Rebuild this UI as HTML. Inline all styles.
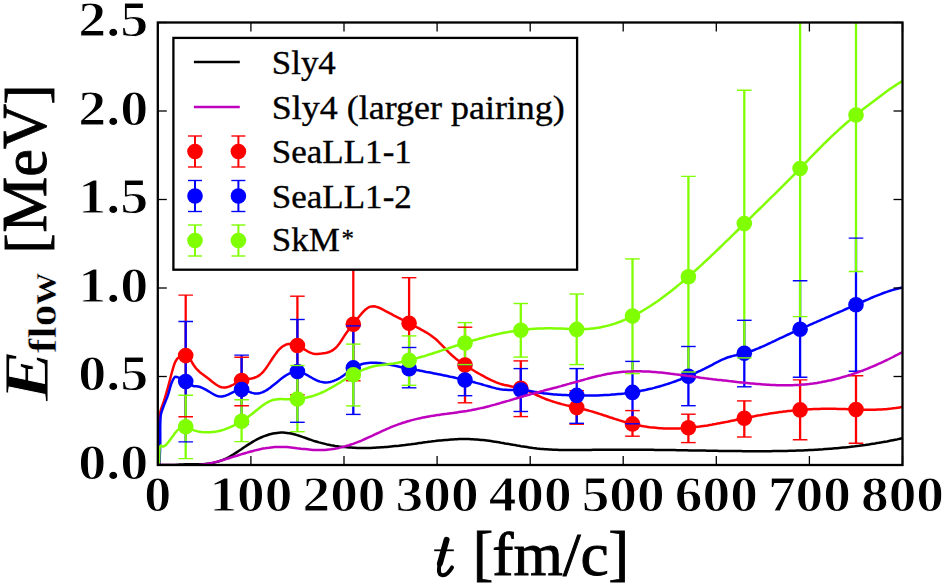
<!DOCTYPE html>
<html><head><meta charset="utf-8"><title>E_flow vs t</title>
<style>
html,body{margin:0;padding:0;background:#fff;width:945px;height:587px;overflow:hidden;}
svg{display:block;}
text{font-family:"Liberation Serif",serif;fill:#000;}
</style></head><body>
<svg width="945" height="587" viewBox="0 0 945 587">
<rect x="0" y="0" width="945" height="587" fill="#fff"/>
<defs><clipPath id="pc"><rect x="157.8" y="22.5" width="744.7" height="442.5"/></clipPath></defs>
<g clip-path="url(#pc)">
<line x1="185.7" y1="295.1" x2="185.7" y2="416.8" stroke="#ff0000" stroke-width="2.3"/>
<line x1="241.6" y1="357.3" x2="241.6" y2="405.8" stroke="#ff0000" stroke-width="2.3"/>
<line x1="297.4" y1="296.2" x2="297.4" y2="394.8" stroke="#ff0000" stroke-width="2.3"/>
<line x1="353.3" y1="250.0" x2="353.3" y2="380.7" stroke="#ff0000" stroke-width="2.3"/>
<line x1="409.1" y1="277.7" x2="409.1" y2="368.7" stroke="#ff0000" stroke-width="2.3"/>
<line x1="465.0" y1="327.2" x2="465.0" y2="402.8" stroke="#ff0000" stroke-width="2.3"/>
<line x1="520.8" y1="360.9" x2="520.8" y2="416.6" stroke="#ff0000" stroke-width="2.3"/>
<line x1="576.7" y1="390.7" x2="576.7" y2="424.2" stroke="#ff0000" stroke-width="2.3"/>
<line x1="632.5" y1="410.6" x2="632.5" y2="436.2" stroke="#ff0000" stroke-width="2.3"/>
<line x1="688.4" y1="414.2" x2="688.4" y2="442.6" stroke="#ff0000" stroke-width="2.3"/>
<line x1="744.3" y1="400.9" x2="744.3" y2="437.0" stroke="#ff0000" stroke-width="2.3"/>
<line x1="800.1" y1="379.9" x2="800.1" y2="439.8" stroke="#ff0000" stroke-width="2.3"/>
<line x1="856.0" y1="375.8" x2="856.0" y2="443.3" stroke="#ff0000" stroke-width="2.3"/>
<line x1="185.7" y1="321.5" x2="185.7" y2="441.9" stroke="#0000ff" stroke-width="2.3"/>
<line x1="241.6" y1="355.1" x2="241.6" y2="424.0" stroke="#0000ff" stroke-width="2.3"/>
<line x1="297.4" y1="319.5" x2="297.4" y2="422.3" stroke="#0000ff" stroke-width="2.3"/>
<line x1="353.3" y1="325.9" x2="353.3" y2="414.4" stroke="#0000ff" stroke-width="2.3"/>
<line x1="409.1" y1="347.5" x2="409.1" y2="387.8" stroke="#0000ff" stroke-width="2.3"/>
<line x1="465.0" y1="364.6" x2="465.0" y2="395.7" stroke="#0000ff" stroke-width="2.3"/>
<line x1="520.8" y1="368.6" x2="520.8" y2="411.5" stroke="#0000ff" stroke-width="2.3"/>
<line x1="576.7" y1="368.6" x2="576.7" y2="423.3" stroke="#0000ff" stroke-width="2.3"/>
<line x1="632.5" y1="361.4" x2="632.5" y2="423.8" stroke="#0000ff" stroke-width="2.3"/>
<line x1="688.4" y1="346.5" x2="688.4" y2="405.7" stroke="#0000ff" stroke-width="2.3"/>
<line x1="744.3" y1="320.3" x2="744.3" y2="386.8" stroke="#0000ff" stroke-width="2.3"/>
<line x1="800.1" y1="280.8" x2="800.1" y2="377.2" stroke="#0000ff" stroke-width="2.3"/>
<line x1="856.0" y1="238.1" x2="856.0" y2="371.3" stroke="#0000ff" stroke-width="2.3"/>
<line x1="185.7" y1="395.2" x2="185.7" y2="458.6" stroke="#7fff00" stroke-width="2.3"/>
<line x1="241.6" y1="399.8" x2="241.6" y2="441.6" stroke="#7fff00" stroke-width="2.3"/>
<line x1="297.4" y1="365.5" x2="297.4" y2="431.7" stroke="#7fff00" stroke-width="2.3"/>
<line x1="353.3" y1="344.1" x2="353.3" y2="405.9" stroke="#7fff00" stroke-width="2.3"/>
<line x1="409.1" y1="335.9" x2="409.1" y2="385.3" stroke="#7fff00" stroke-width="2.3"/>
<line x1="465.0" y1="322.6" x2="465.0" y2="364.6" stroke="#7fff00" stroke-width="2.3"/>
<line x1="520.8" y1="303.5" x2="520.8" y2="357.1" stroke="#7fff00" stroke-width="2.3"/>
<line x1="576.7" y1="294.0" x2="576.7" y2="364.6" stroke="#7fff00" stroke-width="2.3"/>
<line x1="632.5" y1="258.9" x2="632.5" y2="373.6" stroke="#7fff00" stroke-width="2.3"/>
<line x1="688.4" y1="176.4" x2="688.4" y2="372.0" stroke="#7fff00" stroke-width="2.3"/>
<line x1="744.3" y1="90.3" x2="744.3" y2="357.9" stroke="#7fff00" stroke-width="2.3"/>
<line x1="800.1" y1="0.0" x2="800.1" y2="316.6" stroke="#7fff00" stroke-width="2.3"/>
<line x1="856.0" y1="0.0" x2="856.0" y2="271.5" stroke="#7fff00" stroke-width="2.3"/>
<path d="M159.4,465.0 C159.7,447.5 158.4,423.2 160.2,412.6 C161.0,407.8 162.3,406.3 163.5,402.5 C165.1,397.5 167.1,390.4 168.6,385.0 C169.9,380.4 170.8,376.1 172.0,372.0 C173.1,368.3 174.0,364.2 175.4,361.6 C176.4,359.7 177.3,358.3 178.9,357.3 C180.7,356.2 183.7,355.0 185.7,355.6 C187.9,356.2 190.2,359.8 191.6,361.6 L193.6,365.0 L195.6,367.8 L197.6,370.0 L199.6,371.9 L201.6,373.5 L203.6,374.9 L205.6,376.4 L207.6,377.9 L209.6,379.5 L211.6,381.2 L213.6,382.8 L215.6,384.2 L217.6,385.5 L219.6,386.6 L221.6,387.3 L223.6,387.6 L225.6,387.5 L227.6,387.1 L229.6,386.4 L231.6,385.5 L233.6,384.5 L235.6,383.4 L237.6,382.3 L239.6,381.3 L241.6,380.5 L243.6,379.9 L245.6,379.5 L247.6,379.2 L249.6,378.8 L251.6,378.5 L253.6,378.0 L255.6,377.3 L257.6,376.4 L259.6,375.1 L261.6,373.4 L263.6,371.3 L265.6,368.8 L267.6,365.9 L269.6,362.9 L271.6,359.8 L273.6,356.8 L275.6,353.9 L277.6,351.2 L279.6,349.0 L281.6,347.2 L283.6,345.8 L285.6,344.8 L287.6,344.1 L289.6,343.9 L291.6,343.9 L293.6,344.2 L295.6,344.8 L297.6,345.6 L299.6,346.6 L301.6,347.7 L303.6,348.9 L305.6,350.1 L307.6,351.3 L309.6,352.3 L311.6,353.1 L313.6,353.7 L315.6,353.9 L317.6,354.0 L319.6,353.8 L321.6,353.6 L323.6,353.3 L325.6,353.0 L327.6,352.5 L329.6,351.8 L331.6,350.9 L333.6,349.6 L335.6,348.0 L337.6,345.8 L339.6,343.2 L341.6,340.2 L343.6,337.1 L345.6,334.0 L347.6,331.3 L349.6,328.8 L351.6,326.3 L353.6,323.8 L355.6,321.2 L357.6,318.6 L359.6,316.0 L361.6,313.6 L363.6,311.4 L365.6,309.5 L367.6,308.0 L369.6,306.9 L371.6,306.4 L373.6,306.3 L375.6,306.6 L377.6,307.2 L379.6,308.0 L381.6,308.9 L383.6,310.0 L385.6,311.1 L387.6,312.1 L389.6,313.2 L391.6,314.2 L393.6,315.3 L395.6,316.3 L397.6,317.3 L399.6,318.3 L401.6,319.4 L403.6,320.4 L405.6,321.4 L407.6,322.4 L409.6,323.4 L411.6,324.5 L413.6,325.5 L415.6,326.6 L417.6,327.6 L419.6,328.7 L421.6,329.8 L423.6,330.9 L425.6,332.1 L427.6,333.2 L429.6,334.5 L431.6,335.9 L433.6,337.4 L435.6,339.0 L437.6,340.8 L439.6,342.8 L441.6,344.8 L443.6,346.9 L445.6,349.1 L447.6,351.1 L449.6,353.1 L451.6,355.0 L453.6,356.7 L455.6,358.4 L457.6,360.0 L459.6,361.4 L461.6,362.9 L463.6,364.2 L465.6,365.6 L467.6,366.8 L469.6,368.1 L471.6,369.3 L473.6,370.5 L475.6,371.7 L477.6,372.9 L479.6,374.0 L481.6,375.1 L483.6,376.2 L485.6,377.3 L487.6,378.3 L489.6,379.3 L491.6,380.3 L493.6,381.2 L495.6,382.1 L497.6,382.9 L499.6,383.6 L501.6,384.2 L503.6,384.8 L505.6,385.2 L507.6,385.6 L509.6,386.0 L511.6,386.4 L513.6,386.7 L515.6,387.1 L517.6,387.5 L519.6,388.0 L521.6,388.6 L523.6,389.3 L525.6,390.0 L527.6,390.9 L529.6,391.7 L531.6,392.7 L533.6,393.6 L535.6,394.6 L537.6,395.5 L539.6,396.4 L541.6,397.3 L543.6,398.2 L545.6,399.0 L547.6,399.7 L549.6,400.4 L551.6,401.1 L553.6,401.8 L555.6,402.4 L557.6,403.0 L559.6,403.5 L561.6,404.1 L563.6,404.6 L565.6,405.1 L567.6,405.6 L569.6,406.0 L571.6,406.5 L573.6,406.9 L575.6,407.4 L577.6,407.9 L579.6,408.3 L581.6,408.8 L583.6,409.3 L585.6,409.8 L587.6,410.3 L589.6,410.9 L591.6,411.4 L593.6,412.0 L595.6,412.6 L597.6,413.3 L599.6,413.9 L601.6,414.5 L603.6,415.2 L605.6,415.8 L607.6,416.5 L609.6,417.2 L611.6,417.8 L613.6,418.5 L615.6,419.1 L617.6,419.7 L619.6,420.4 L621.6,421.0 L623.6,421.6 L625.6,422.2 L627.6,422.7 L629.6,423.2 L631.6,423.8 L633.6,424.2 L635.6,424.7 L637.6,425.1 L639.6,425.5 L641.6,425.9 L643.6,426.3 L645.6,426.6 L647.6,426.9 L649.6,427.2 L651.6,427.4 L653.6,427.6 L655.6,427.8 L657.6,428.0 L659.6,428.2 L661.6,428.3 L663.6,428.4 L665.6,428.5 L667.6,428.5 L669.6,428.6 L671.6,428.6 L673.6,428.6 L675.6,428.5 L677.6,428.5 L679.6,428.4 L681.6,428.3 L683.6,428.2 L685.6,428.0 L687.6,427.9 L689.6,427.7 L691.6,427.5 L693.6,427.3 L695.6,427.1 L697.6,426.8 L699.6,426.6 L701.6,426.3 L703.6,426.0 L705.6,425.7 L707.6,425.4 L709.6,425.0 L711.6,424.7 L713.6,424.3 L715.6,424.0 L717.6,423.6 L719.6,423.2 L721.6,422.8 L723.6,422.4 L725.6,422.1 L727.6,421.7 L729.6,421.2 L731.6,420.8 L733.6,420.4 L735.6,420.0 L737.6,419.6 L739.6,419.2 L741.6,418.8 L743.6,418.4 L745.6,418.0 L747.6,417.6 L749.6,417.2 L751.6,416.8 L753.6,416.4 L755.6,416.0 L757.6,415.6 L759.6,415.3 L761.6,414.9 L763.6,414.6 L765.6,414.2 L767.6,413.9 L769.6,413.6 L771.6,413.3 L773.6,413.0 L775.6,412.7 L777.6,412.4 L779.6,412.1 L781.6,411.9 L783.6,411.6 L785.6,411.4 L787.6,411.1 L789.6,410.9 L791.6,410.7 L793.6,410.5 L795.6,410.3 L797.6,410.1 L799.6,409.9 L801.6,409.8 L803.6,409.6 L805.6,409.5 L807.6,409.4 L809.6,409.3 L811.6,409.2 L813.6,409.1 L815.6,409.0 L817.6,408.9 L819.6,408.9 L821.6,408.8 L823.6,408.8 L825.6,408.7 L827.6,408.7 L829.6,408.7 L831.6,408.8 L833.6,408.8 L835.6,408.8 L837.6,408.9 L839.6,408.9 L841.6,409.0 L843.6,409.0 L845.6,409.1 L847.6,409.2 L849.6,409.3 L851.6,409.3 L853.6,409.4 L855.6,409.5 L857.6,409.6 L859.6,409.6 L861.6,409.7 L863.6,409.7 L865.6,409.7 L867.6,409.8 L869.6,409.8 L871.6,409.8 L873.6,409.7 L875.6,409.7 L877.6,409.6 L879.6,409.6 L881.6,409.5 L883.6,409.3 L885.6,409.2 L887.6,409.0 L889.6,408.8 L891.6,408.6 L893.6,408.3 L895.6,408.1 L897.6,407.7 L899.6,407.4 L901.6,407.0 L902.5,406.8" fill="none" stroke="#ff0000" stroke-width="2.5" stroke-linejoin="round" stroke-linecap="butt"/>
<circle cx="185.7" cy="355.6" r="7.8" fill="#ff0000"/>
<circle cx="241.6" cy="380.5" r="7.8" fill="#ff0000"/>
<circle cx="297.4" cy="345.5" r="7.8" fill="#ff0000"/>
<circle cx="353.3" cy="324.2" r="7.8" fill="#ff0000"/>
<circle cx="409.1" cy="323.2" r="7.8" fill="#ff0000"/>
<circle cx="465.0" cy="365.1" r="7.8" fill="#ff0000"/>
<circle cx="520.8" cy="388.3" r="7.8" fill="#ff0000"/>
<circle cx="576.7" cy="407.6" r="7.8" fill="#ff0000"/>
<circle cx="632.5" cy="423.9" r="7.8" fill="#ff0000"/>
<circle cx="688.4" cy="427.8" r="7.8" fill="#ff0000"/>
<circle cx="744.3" cy="418.3" r="7.8" fill="#ff0000"/>
<circle cx="800.1" cy="409.9" r="7.8" fill="#ff0000"/>
<circle cx="856.0" cy="409.6" r="7.8" fill="#ff0000"/>
<line x1="178.4" y1="295.1" x2="193.0" y2="295.1" stroke="#ff0000" stroke-width="1.4"/>
<line x1="178.4" y1="416.8" x2="193.0" y2="416.8" stroke="#ff0000" stroke-width="1.4"/>
<line x1="234.3" y1="357.3" x2="248.9" y2="357.3" stroke="#ff0000" stroke-width="1.4"/>
<line x1="234.3" y1="405.8" x2="248.9" y2="405.8" stroke="#ff0000" stroke-width="1.4"/>
<line x1="290.1" y1="296.2" x2="304.7" y2="296.2" stroke="#ff0000" stroke-width="1.4"/>
<line x1="290.1" y1="394.8" x2="304.7" y2="394.8" stroke="#ff0000" stroke-width="1.4"/>
<line x1="346.0" y1="250.0" x2="360.6" y2="250.0" stroke="#ff0000" stroke-width="1.4"/>
<line x1="346.0" y1="380.7" x2="360.6" y2="380.7" stroke="#ff0000" stroke-width="1.4"/>
<line x1="401.8" y1="277.7" x2="416.4" y2="277.7" stroke="#ff0000" stroke-width="1.4"/>
<line x1="401.8" y1="368.7" x2="416.4" y2="368.7" stroke="#ff0000" stroke-width="1.4"/>
<line x1="457.7" y1="327.2" x2="472.3" y2="327.2" stroke="#ff0000" stroke-width="1.4"/>
<line x1="457.7" y1="402.8" x2="472.3" y2="402.8" stroke="#ff0000" stroke-width="1.4"/>
<line x1="513.5" y1="360.9" x2="528.1" y2="360.9" stroke="#ff0000" stroke-width="1.4"/>
<line x1="513.5" y1="416.6" x2="528.1" y2="416.6" stroke="#ff0000" stroke-width="1.4"/>
<line x1="569.4" y1="390.7" x2="584.0" y2="390.7" stroke="#ff0000" stroke-width="1.4"/>
<line x1="569.4" y1="424.2" x2="584.0" y2="424.2" stroke="#ff0000" stroke-width="1.4"/>
<line x1="625.2" y1="410.6" x2="639.8" y2="410.6" stroke="#ff0000" stroke-width="1.4"/>
<line x1="625.2" y1="436.2" x2="639.8" y2="436.2" stroke="#ff0000" stroke-width="1.4"/>
<line x1="681.1" y1="414.2" x2="695.7" y2="414.2" stroke="#ff0000" stroke-width="1.4"/>
<line x1="681.1" y1="442.6" x2="695.7" y2="442.6" stroke="#ff0000" stroke-width="1.4"/>
<line x1="737.0" y1="400.9" x2="751.6" y2="400.9" stroke="#ff0000" stroke-width="1.4"/>
<line x1="737.0" y1="437.0" x2="751.6" y2="437.0" stroke="#ff0000" stroke-width="1.4"/>
<line x1="792.8" y1="379.9" x2="807.4" y2="379.9" stroke="#ff0000" stroke-width="1.4"/>
<line x1="792.8" y1="439.8" x2="807.4" y2="439.8" stroke="#ff0000" stroke-width="1.4"/>
<line x1="848.7" y1="375.8" x2="863.3" y2="375.8" stroke="#ff0000" stroke-width="1.4"/>
<line x1="848.7" y1="443.3" x2="863.3" y2="443.3" stroke="#ff0000" stroke-width="1.4"/>
<path d="M159.4,465.0 C159.7,458.3 160.0,452.4 160.2,445.0 C160.5,435.9 159.7,421.3 160.9,414.5 C161.5,410.9 162.5,409.4 163.5,406.5 C164.7,403.1 166.4,399.5 167.8,395.6 C169.3,391.3 170.4,385.3 172.0,381.9 C173.0,379.7 174.0,377.3 175.4,376.8 C176.4,376.4 177.6,377.2 178.9,377.7 C180.8,378.5 183.3,380.3 185.7,381.6 C188.4,383.1 192.3,385.8 194.2,386.3 L196.2,386.2 L198.2,386.5 L200.2,387.0 L202.2,387.8 L204.2,388.8 L206.2,389.9 L208.2,391.1 L210.2,392.3 L212.2,393.5 L214.2,394.6 L216.2,395.6 L218.2,396.3 L220.2,396.6 L222.2,396.5 L224.2,396.1 L226.2,395.4 L228.2,394.6 L230.2,393.6 L232.2,392.6 L234.2,391.6 L236.2,390.7 L238.2,390.0 L240.2,389.7 L242.2,389.6 L244.2,390.0 L246.2,390.7 L248.2,391.4 L250.2,392.2 L252.2,392.9 L254.2,393.4 L256.2,393.5 L258.2,393.4 L260.2,393.0 L262.2,392.4 L264.2,391.5 L266.2,390.4 L268.2,389.1 L270.2,387.7 L272.2,386.1 L274.2,384.5 L276.2,382.9 L278.2,381.3 L280.2,379.6 L282.2,378.1 L284.2,376.6 L286.2,375.3 L288.2,374.1 L290.2,373.1 L292.2,372.3 L294.2,371.8 L296.2,371.5 L298.2,371.6 L300.2,372.0 L302.2,372.7 L304.2,373.5 L306.2,374.6 L308.2,375.7 L310.2,376.9 L312.2,378.0 L314.2,379.2 L316.2,380.2 L318.2,381.0 L320.2,381.6 L322.2,382.1 L324.2,382.4 L326.2,382.4 L328.2,382.3 L330.2,382.0 L332.2,381.4 L334.2,380.7 L336.2,379.9 L338.2,378.9 L340.2,377.7 L342.2,376.4 L344.2,375.0 L346.2,373.4 L348.2,371.8 L350.2,370.2 L352.2,368.7 L354.2,367.4 L356.2,366.3 L358.2,365.4 L360.2,364.7 L362.2,364.0 L364.2,363.6 L366.2,363.2 L368.2,362.9 L370.2,362.8 L372.2,362.7 L374.2,362.7 L376.2,362.8 L378.2,362.9 L380.2,363.1 L382.2,363.4 L384.2,363.7 L386.2,364.1 L388.2,364.4 L390.2,364.8 L392.2,365.2 L394.2,365.6 L396.2,366.1 L398.2,366.5 L400.2,366.9 L402.2,367.3 L404.2,367.6 L406.2,368.0 L408.2,368.4 L410.2,368.8 L412.2,369.2 L414.2,369.6 L416.2,370.0 L418.2,370.3 L420.2,370.7 L422.2,371.1 L424.2,371.5 L426.2,371.9 L428.2,372.2 L430.2,372.6 L432.2,373.0 L434.2,373.4 L436.2,373.8 L438.2,374.2 L440.2,374.6 L442.2,375.0 L444.2,375.4 L446.2,375.8 L448.2,376.2 L450.2,376.7 L452.2,377.1 L454.2,377.5 L456.2,378.0 L458.2,378.4 L460.2,378.9 L462.2,379.4 L464.2,379.8 L466.2,380.3 L468.2,380.8 L470.2,381.3 L472.2,381.8 L474.2,382.3 L476.2,382.9 L478.2,383.4 L480.2,383.9 L482.2,384.5 L484.2,385.1 L486.2,385.6 L488.2,386.2 L490.2,386.8 L492.2,387.4 L494.2,387.9 L496.2,388.4 L498.2,388.8 L500.2,389.2 L502.2,389.5 L504.2,389.7 L506.2,389.8 L508.2,389.9 L510.2,389.9 L512.2,389.9 L514.2,389.9 L516.2,389.9 L518.2,389.9 L520.2,390.0 L522.2,390.1 L524.2,390.3 L526.2,390.5 L528.2,390.8 L530.2,391.1 L532.2,391.4 L534.2,391.8 L536.2,392.1 L538.2,392.5 L540.2,392.8 L542.2,393.1 L544.2,393.4 L546.2,393.6 L548.2,393.8 L550.2,394.0 L552.2,394.2 L554.2,394.4 L556.2,394.5 L558.2,394.7 L560.2,394.8 L562.2,394.9 L564.2,395.0 L566.2,395.1 L568.2,395.2 L570.2,395.3 L572.2,395.3 L574.2,395.4 L576.2,395.4 L578.2,395.5 L580.2,395.5 L582.2,395.5 L584.2,395.6 L586.2,395.6 L588.2,395.6 L590.2,395.6 L592.2,395.5 L594.2,395.5 L596.2,395.5 L598.2,395.4 L600.2,395.3 L602.2,395.2 L604.2,395.1 L606.2,395.0 L608.2,394.9 L610.2,394.8 L612.2,394.6 L614.2,394.5 L616.2,394.3 L618.2,394.1 L620.2,393.9 L622.2,393.7 L624.2,393.5 L626.2,393.2 L628.2,392.9 L630.2,392.6 L632.2,392.3 L634.2,392.0 L636.2,391.7 L638.2,391.3 L640.2,391.0 L642.2,390.6 L644.2,390.2 L646.2,389.8 L648.2,389.3 L650.2,388.8 L652.2,388.4 L654.2,387.9 L656.2,387.3 L658.2,386.8 L660.2,386.2 L662.2,385.6 L664.2,385.0 L666.2,384.4 L668.2,383.8 L670.2,383.1 L672.2,382.4 L674.2,381.7 L676.2,381.0 L678.2,380.2 L680.2,379.5 L682.2,378.7 L684.2,377.9 L686.2,377.0 L688.2,376.2 L690.2,375.3 L692.2,374.5 L694.2,373.6 L696.2,372.7 L698.2,371.7 L700.2,370.8 L702.2,369.8 L704.2,368.9 L706.2,367.9 L708.2,366.9 L710.2,365.8 L712.2,364.8 L714.2,363.7 L716.2,362.7 L718.2,361.7 L720.2,360.6 L722.2,359.7 L724.2,358.8 L726.2,358.0 L728.2,357.3 L730.2,356.7 L732.2,356.1 L734.2,355.6 L736.2,355.2 L738.2,354.7 L740.2,354.2 L742.2,353.8 L744.2,353.3 L746.2,352.7 L748.2,352.1 L750.2,351.4 L752.2,350.7 L754.2,350.0 L756.2,349.2 L758.2,348.4 L760.2,347.5 L762.2,346.7 L764.2,345.8 L766.2,344.9 L768.2,343.9 L770.2,343.0 L772.2,342.0 L774.2,341.1 L776.2,340.1 L778.2,339.2 L780.2,338.2 L782.2,337.3 L784.2,336.4 L786.2,335.4 L788.2,334.5 L790.2,333.6 L792.2,332.7 L794.2,331.8 L796.2,330.9 L798.2,330.0 L800.2,329.1 L802.2,328.2 L804.2,327.3 L806.2,326.4 L808.2,325.6 L810.2,324.7 L812.2,323.8 L814.2,322.9 L816.2,322.1 L818.2,321.2 L820.2,320.3 L822.2,319.4 L824.2,318.6 L826.2,317.7 L828.2,316.8 L830.2,316.0 L832.2,315.1 L834.2,314.2 L836.2,313.4 L838.2,312.5 L840.2,311.6 L842.2,310.8 L844.2,309.9 L846.2,309.0 L848.2,308.1 L850.2,307.2 L852.2,306.4 L854.2,305.5 L856.2,304.6 L858.2,303.7 L860.2,302.8 L862.2,301.9 L864.2,301.0 L866.2,300.1 L868.2,299.3 L870.2,298.4 L872.2,297.5 L874.2,296.7 L876.2,295.9 L878.2,295.1 L880.2,294.3 L882.2,293.5 L884.2,292.8 L886.2,292.1 L888.2,291.4 L890.2,290.7 L892.2,290.1 L894.2,289.5 L896.2,289.0 L898.2,288.5 L900.2,288.0 L902.2,287.6 L902.5,287.5" fill="none" stroke="#0000ff" stroke-width="2.5" stroke-linejoin="round" stroke-linecap="butt"/>
<circle cx="185.7" cy="381.6" r="7.8" fill="#0000ff"/>
<circle cx="241.6" cy="389.6" r="7.8" fill="#0000ff"/>
<circle cx="297.4" cy="371.5" r="7.8" fill="#0000ff"/>
<circle cx="353.3" cy="367.9" r="7.8" fill="#0000ff"/>
<circle cx="409.1" cy="368.7" r="7.8" fill="#0000ff"/>
<circle cx="465.0" cy="380.0" r="7.8" fill="#0000ff"/>
<circle cx="520.8" cy="390.0" r="7.8" fill="#0000ff"/>
<circle cx="576.7" cy="395.4" r="7.8" fill="#0000ff"/>
<circle cx="632.5" cy="392.4" r="7.8" fill="#0000ff"/>
<circle cx="688.4" cy="376.2" r="7.8" fill="#0000ff"/>
<circle cx="744.3" cy="353.3" r="7.8" fill="#0000ff"/>
<circle cx="800.1" cy="329.2" r="7.8" fill="#0000ff"/>
<circle cx="856.0" cy="304.7" r="7.8" fill="#0000ff"/>
<line x1="178.4" y1="321.5" x2="193.0" y2="321.5" stroke="#0000ff" stroke-width="1.4"/>
<line x1="178.4" y1="441.9" x2="193.0" y2="441.9" stroke="#0000ff" stroke-width="1.4"/>
<line x1="234.3" y1="355.1" x2="248.9" y2="355.1" stroke="#0000ff" stroke-width="1.4"/>
<line x1="234.3" y1="424.0" x2="248.9" y2="424.0" stroke="#0000ff" stroke-width="1.4"/>
<line x1="290.1" y1="319.5" x2="304.7" y2="319.5" stroke="#0000ff" stroke-width="1.4"/>
<line x1="290.1" y1="422.3" x2="304.7" y2="422.3" stroke="#0000ff" stroke-width="1.4"/>
<line x1="346.0" y1="325.9" x2="360.6" y2="325.9" stroke="#0000ff" stroke-width="1.4"/>
<line x1="346.0" y1="414.4" x2="360.6" y2="414.4" stroke="#0000ff" stroke-width="1.4"/>
<line x1="401.8" y1="347.5" x2="416.4" y2="347.5" stroke="#0000ff" stroke-width="1.4"/>
<line x1="401.8" y1="387.8" x2="416.4" y2="387.8" stroke="#0000ff" stroke-width="1.4"/>
<line x1="457.7" y1="364.6" x2="472.3" y2="364.6" stroke="#0000ff" stroke-width="1.4"/>
<line x1="457.7" y1="395.7" x2="472.3" y2="395.7" stroke="#0000ff" stroke-width="1.4"/>
<line x1="513.5" y1="368.6" x2="528.1" y2="368.6" stroke="#0000ff" stroke-width="1.4"/>
<line x1="513.5" y1="411.5" x2="528.1" y2="411.5" stroke="#0000ff" stroke-width="1.4"/>
<line x1="569.4" y1="368.6" x2="584.0" y2="368.6" stroke="#0000ff" stroke-width="1.4"/>
<line x1="569.4" y1="423.3" x2="584.0" y2="423.3" stroke="#0000ff" stroke-width="1.4"/>
<line x1="625.2" y1="361.4" x2="639.8" y2="361.4" stroke="#0000ff" stroke-width="1.4"/>
<line x1="625.2" y1="423.8" x2="639.8" y2="423.8" stroke="#0000ff" stroke-width="1.4"/>
<line x1="681.1" y1="346.5" x2="695.7" y2="346.5" stroke="#0000ff" stroke-width="1.4"/>
<line x1="681.1" y1="405.7" x2="695.7" y2="405.7" stroke="#0000ff" stroke-width="1.4"/>
<line x1="737.0" y1="320.3" x2="751.6" y2="320.3" stroke="#0000ff" stroke-width="1.4"/>
<line x1="737.0" y1="386.8" x2="751.6" y2="386.8" stroke="#0000ff" stroke-width="1.4"/>
<line x1="792.8" y1="280.8" x2="807.4" y2="280.8" stroke="#0000ff" stroke-width="1.4"/>
<line x1="792.8" y1="377.2" x2="807.4" y2="377.2" stroke="#0000ff" stroke-width="1.4"/>
<line x1="848.7" y1="238.1" x2="863.3" y2="238.1" stroke="#0000ff" stroke-width="1.4"/>
<line x1="848.7" y1="371.3" x2="863.3" y2="371.3" stroke="#0000ff" stroke-width="1.4"/>
<path d="M159.0,465.0 C159.5,458.5 158.9,446.4 160.6,445.5 C161.2,445.2 162.0,446.6 162.8,446.6 C163.6,446.6 164.5,446.0 165.3,445.4 C166.4,444.6 167.4,443.4 168.5,442.0 C170.0,440.2 171.8,437.4 173.5,435.2 C175.2,433.1 176.5,430.7 178.6,429.3 C180.6,427.9 183.3,426.6 185.7,426.7 C188.4,426.8 192.1,429.7 193.9,430.4 L195.9,430.9 L197.9,431.4 L199.9,431.7 L201.9,432.0 L203.9,432.2 L205.9,432.3 L207.9,432.3 L209.9,432.3 L211.9,432.1 L213.9,431.9 L215.9,431.6 L217.9,431.2 L219.9,430.7 L221.9,430.2 L223.9,429.6 L225.9,428.9 L227.9,428.2 L229.9,427.3 L231.9,426.4 L233.9,425.5 L235.9,424.5 L237.9,423.4 L239.9,422.2 L241.9,421.0 L243.9,419.7 L245.9,418.4 L247.9,417.0 L249.9,415.5 L251.9,414.0 L253.9,412.4 L255.9,410.8 L257.9,409.2 L259.9,407.6 L261.9,406.0 L263.9,404.6 L265.9,403.3 L267.9,402.1 L269.9,401.1 L271.9,400.3 L273.9,399.8 L275.9,399.4 L277.9,399.2 L279.9,399.1 L281.9,399.1 L283.9,399.2 L285.9,399.2 L287.9,399.3 L289.9,399.3 L291.9,399.3 L293.9,399.2 L295.9,399.1 L297.9,398.9 L299.9,398.7 L301.9,398.4 L303.9,398.1 L305.9,397.7 L307.9,397.2 L309.9,396.7 L311.9,396.2 L313.9,395.6 L315.9,394.9 L317.9,394.2 L319.9,393.4 L321.9,392.5 L323.9,391.6 L325.9,390.6 L327.9,389.5 L329.9,388.4 L331.9,387.3 L333.9,386.2 L335.9,385.0 L337.9,383.8 L339.9,382.6 L341.9,381.3 L343.9,380.1 L345.9,378.9 L347.9,377.7 L349.9,376.5 L351.9,375.4 L353.9,374.3 L355.9,373.2 L357.9,372.2 L359.9,371.2 L361.9,370.3 L363.9,369.4 L365.9,368.7 L367.9,368.0 L369.9,367.3 L371.9,366.7 L373.9,366.2 L375.9,365.8 L377.9,365.4 L379.9,365.2 L381.9,364.9 L383.9,364.7 L385.9,364.5 L387.9,364.3 L389.9,364.0 L391.9,363.7 L393.9,363.4 L395.9,363.0 L397.9,362.7 L399.9,362.3 L401.9,361.9 L403.9,361.4 L405.9,361.0 L407.9,360.5 L409.9,360.0 L411.9,359.5 L413.9,359.0 L415.9,358.5 L417.9,357.9 L419.9,357.3 L421.9,356.7 L423.9,356.2 L425.9,355.6 L427.9,354.9 L429.9,354.3 L431.9,353.7 L433.9,353.0 L435.9,352.4 L437.9,351.8 L439.9,351.1 L441.9,350.4 L443.9,349.8 L445.9,349.1 L447.9,348.5 L449.9,347.8 L451.9,347.1 L453.9,346.5 L455.9,345.8 L457.9,345.2 L459.9,344.5 L461.9,343.9 L463.9,343.3 L465.9,342.6 L467.9,342.0 L469.9,341.4 L471.9,340.8 L473.9,340.2 L475.9,339.7 L477.9,339.1 L479.9,338.5 L481.9,338.0 L483.9,337.5 L485.9,336.9 L487.9,336.4 L489.9,335.9 L491.9,335.5 L493.9,335.0 L495.9,334.5 L497.9,334.1 L499.9,333.6 L501.9,333.2 L503.9,332.8 L505.9,332.4 L507.9,332.1 L509.9,331.7 L511.9,331.4 L513.9,331.1 L515.9,330.8 L517.9,330.5 L519.9,330.2 L521.9,329.9 L523.9,329.7 L525.9,329.5 L527.9,329.3 L529.9,329.1 L531.9,328.9 L533.9,328.8 L535.9,328.7 L537.9,328.6 L539.9,328.5 L541.9,328.4 L543.9,328.4 L545.9,328.3 L547.9,328.3 L549.9,328.3 L551.9,328.3 L553.9,328.4 L555.9,328.4 L557.9,328.5 L559.9,328.5 L561.9,328.6 L563.9,328.7 L565.9,328.8 L567.9,328.9 L569.9,329.1 L571.9,329.2 L573.9,329.2 L575.9,329.3 L577.9,329.3 L579.9,329.3 L581.9,329.3 L583.9,329.2 L585.9,329.1 L587.9,329.0 L589.9,328.8 L591.9,328.6 L593.9,328.4 L595.9,328.1 L597.9,327.8 L599.9,327.4 L601.9,327.0 L603.9,326.6 L605.9,326.1 L607.9,325.6 L609.9,325.1 L611.9,324.5 L613.9,323.9 L615.9,323.2 L617.9,322.5 L619.9,321.8 L621.9,321.0 L623.9,320.2 L625.9,319.3 L627.9,318.4 L629.9,317.5 L631.9,316.5 L633.9,315.5 L635.9,314.5 L637.9,313.4 L639.9,312.3 L641.9,311.2 L643.9,310.0 L645.9,308.8 L647.9,307.5 L649.9,306.3 L651.9,305.0 L653.9,303.6 L655.9,302.3 L657.9,300.9 L659.9,299.5 L661.9,298.0 L663.9,296.5 L665.9,295.0 L667.9,293.5 L669.9,292.0 L671.9,290.4 L673.9,288.8 L675.9,287.2 L677.9,285.6 L679.9,283.9 L681.9,282.2 L683.9,280.6 L685.9,278.8 L687.9,277.1 L689.9,275.4 L691.9,273.6 L693.9,271.8 L695.9,270.0 L697.9,268.2 L699.9,266.4 L701.9,264.6 L703.9,262.7 L705.9,260.8 L707.9,259.0 L709.9,257.1 L711.9,255.2 L713.9,253.3 L715.9,251.4 L717.9,249.5 L719.9,247.5 L721.9,245.6 L723.9,243.7 L725.9,241.7 L727.9,239.8 L729.9,237.8 L731.9,235.9 L733.9,233.9 L735.9,232.0 L737.9,230.0 L739.9,228.0 L741.9,226.1 L743.9,224.1 L745.9,222.2 L747.9,220.2 L749.9,218.3 L751.9,216.3 L753.9,214.4 L755.9,212.4 L757.9,210.5 L759.9,208.5 L761.9,206.6 L763.9,204.6 L765.9,202.6 L767.9,200.7 L769.9,198.7 L771.9,196.7 L773.9,194.8 L775.9,192.8 L777.9,190.8 L779.9,188.8 L781.9,186.8 L783.9,184.9 L785.9,182.8 L787.9,180.8 L789.9,178.8 L791.9,176.8 L793.9,174.8 L795.9,172.7 L797.9,170.7 L799.9,168.6 L801.9,166.6 L803.9,164.5 L805.9,162.4 L807.9,160.3 L809.9,158.2 L811.9,156.2 L813.9,154.1 L815.9,152.0 L817.9,150.0 L819.9,148.0 L821.9,145.9 L823.9,143.9 L825.9,142.0 L827.9,140.0 L829.9,138.1 L831.9,136.2 L833.9,134.3 L835.9,132.5 L837.9,130.6 L839.9,128.8 L841.9,127.0 L843.9,125.3 L845.9,123.5 L847.9,121.8 L849.9,120.1 L851.9,118.4 L853.9,116.7 L855.9,115.1 L857.9,113.4 L859.9,111.8 L861.9,110.2 L863.9,108.6 L865.9,107.0 L867.9,105.5 L869.9,103.9 L871.9,102.4 L873.9,100.9 L875.9,99.4 L877.9,97.9 L879.9,96.4 L881.9,94.9 L883.9,93.4 L885.9,92.0 L887.9,90.5 L889.9,89.1 L891.9,87.8 L893.9,86.4 L895.9,85.1 L897.9,83.8 L899.9,82.6 L901.9,81.3 L902.5,81.0" fill="none" stroke="#7fff00" stroke-width="2.5" stroke-linejoin="round" stroke-linecap="butt"/>
<circle cx="185.7" cy="426.7" r="7.8" fill="#7fff00"/>
<circle cx="241.6" cy="421.3" r="7.8" fill="#7fff00"/>
<circle cx="297.4" cy="399.0" r="7.8" fill="#7fff00"/>
<circle cx="353.3" cy="374.7" r="7.8" fill="#7fff00"/>
<circle cx="409.1" cy="360.2" r="7.8" fill="#7fff00"/>
<circle cx="465.0" cy="343.0" r="7.8" fill="#7fff00"/>
<circle cx="520.8" cy="330.2" r="7.8" fill="#7fff00"/>
<circle cx="576.7" cy="329.4" r="7.8" fill="#7fff00"/>
<circle cx="632.5" cy="316.1" r="7.8" fill="#7fff00"/>
<circle cx="688.4" cy="276.8" r="7.8" fill="#7fff00"/>
<circle cx="744.3" cy="223.6" r="7.8" fill="#7fff00"/>
<circle cx="800.1" cy="168.5" r="7.8" fill="#7fff00"/>
<circle cx="856.0" cy="115.0" r="7.8" fill="#7fff00"/>
<line x1="178.4" y1="395.2" x2="193.0" y2="395.2" stroke="#7fff00" stroke-width="1.4"/>
<line x1="178.4" y1="458.6" x2="193.0" y2="458.6" stroke="#7fff00" stroke-width="1.4"/>
<line x1="234.3" y1="399.8" x2="248.9" y2="399.8" stroke="#7fff00" stroke-width="1.4"/>
<line x1="234.3" y1="441.6" x2="248.9" y2="441.6" stroke="#7fff00" stroke-width="1.4"/>
<line x1="290.1" y1="365.5" x2="304.7" y2="365.5" stroke="#7fff00" stroke-width="1.4"/>
<line x1="290.1" y1="431.7" x2="304.7" y2="431.7" stroke="#7fff00" stroke-width="1.4"/>
<line x1="346.0" y1="344.1" x2="360.6" y2="344.1" stroke="#7fff00" stroke-width="1.4"/>
<line x1="346.0" y1="405.9" x2="360.6" y2="405.9" stroke="#7fff00" stroke-width="1.4"/>
<line x1="401.8" y1="335.9" x2="416.4" y2="335.9" stroke="#7fff00" stroke-width="1.4"/>
<line x1="401.8" y1="385.3" x2="416.4" y2="385.3" stroke="#7fff00" stroke-width="1.4"/>
<line x1="457.7" y1="322.6" x2="472.3" y2="322.6" stroke="#7fff00" stroke-width="1.4"/>
<line x1="457.7" y1="364.6" x2="472.3" y2="364.6" stroke="#7fff00" stroke-width="1.4"/>
<line x1="513.5" y1="303.5" x2="528.1" y2="303.5" stroke="#7fff00" stroke-width="1.4"/>
<line x1="513.5" y1="357.1" x2="528.1" y2="357.1" stroke="#7fff00" stroke-width="1.4"/>
<line x1="569.4" y1="294.0" x2="584.0" y2="294.0" stroke="#7fff00" stroke-width="1.4"/>
<line x1="569.4" y1="364.6" x2="584.0" y2="364.6" stroke="#7fff00" stroke-width="1.4"/>
<line x1="625.2" y1="258.9" x2="639.8" y2="258.9" stroke="#7fff00" stroke-width="1.4"/>
<line x1="625.2" y1="373.6" x2="639.8" y2="373.6" stroke="#7fff00" stroke-width="1.4"/>
<line x1="681.1" y1="176.4" x2="695.7" y2="176.4" stroke="#7fff00" stroke-width="1.4"/>
<line x1="681.1" y1="372.0" x2="695.7" y2="372.0" stroke="#7fff00" stroke-width="1.4"/>
<line x1="737.0" y1="90.3" x2="751.6" y2="90.3" stroke="#7fff00" stroke-width="1.4"/>
<line x1="737.0" y1="357.9" x2="751.6" y2="357.9" stroke="#7fff00" stroke-width="1.4"/>
<line x1="792.8" y1="0.0" x2="807.4" y2="0.0" stroke="#7fff00" stroke-width="1.4"/>
<line x1="792.8" y1="316.6" x2="807.4" y2="316.6" stroke="#7fff00" stroke-width="1.4"/>
<line x1="848.7" y1="0.0" x2="863.3" y2="0.0" stroke="#7fff00" stroke-width="1.4"/>
<line x1="848.7" y1="271.5" x2="863.3" y2="271.5" stroke="#7fff00" stroke-width="1.4"/>
<path d="M158.0,465.0 C163.7,465.0 172.1,465.1 175.0,464.9 L177.0,464.7 L179.0,464.6 L181.0,464.4 L183.0,464.4 L185.0,464.3 L187.0,464.3 L189.0,464.3 L191.0,464.3 L193.0,464.3 L195.0,464.3 L197.0,464.3 L199.0,464.3 L201.0,464.2 L203.0,464.2 L205.0,464.0 L207.0,463.8 L209.0,463.6 L211.0,463.3 L213.0,462.9 L215.0,462.4 L217.0,461.9 L219.0,461.3 L221.0,460.6 L223.0,459.8 L225.0,459.0 L227.0,458.0 L229.0,457.0 L231.0,455.8 L233.0,454.7 L235.0,453.4 L237.0,452.1 L239.0,450.8 L241.0,449.5 L243.0,448.1 L245.0,446.7 L247.0,445.4 L249.0,444.1 L251.0,442.9 L253.0,441.6 L255.0,440.5 L257.0,439.4 L259.0,438.4 L261.0,437.5 L263.0,436.6 L265.0,435.9 L267.0,435.2 L269.0,434.5 L271.0,434.0 L273.0,433.5 L275.0,433.2 L277.0,432.9 L279.0,432.7 L281.0,432.6 L283.0,432.6 L285.0,432.7 L287.0,432.9 L289.0,433.2 L291.0,433.5 L293.0,434.0 L295.0,434.5 L297.0,435.1 L299.0,435.7 L301.0,436.4 L303.0,437.1 L305.0,437.8 L307.0,438.5 L309.0,439.2 L311.0,439.9 L313.0,440.6 L315.0,441.2 L317.0,441.8 L319.0,442.4 L321.0,442.9 L323.0,443.4 L325.0,443.9 L327.0,444.4 L329.0,444.8 L331.0,445.2 L333.0,445.5 L335.0,445.9 L337.0,446.2 L339.0,446.5 L341.0,446.7 L343.0,446.9 L345.0,447.1 L347.0,447.3 L349.0,447.5 L351.0,447.6 L353.0,447.7 L355.0,447.8 L357.0,447.9 L359.0,447.9 L361.0,448.0 L363.0,448.0 L365.0,448.0 L367.0,448.0 L369.0,447.9 L371.0,447.9 L373.0,447.8 L375.0,447.7 L377.0,447.6 L379.0,447.5 L381.0,447.3 L383.0,447.2 L385.0,447.0 L387.0,446.9 L389.0,446.7 L391.0,446.5 L393.0,446.3 L395.0,446.1 L397.0,445.9 L399.0,445.7 L401.0,445.4 L403.0,445.2 L405.0,445.0 L407.0,444.7 L409.0,444.4 L411.0,444.2 L413.0,443.9 L415.0,443.7 L417.0,443.4 L419.0,443.1 L421.0,442.9 L423.0,442.6 L425.0,442.3 L427.0,442.1 L429.0,441.8 L431.0,441.6 L433.0,441.3 L435.0,441.1 L437.0,440.8 L439.0,440.6 L441.0,440.4 L443.0,440.2 L445.0,440.0 L447.0,439.9 L449.0,439.7 L451.0,439.5 L453.0,439.4 L455.0,439.3 L457.0,439.2 L459.0,439.1 L461.0,439.1 L463.0,439.1 L465.0,439.0 L467.0,439.1 L469.0,439.1 L471.0,439.2 L473.0,439.2 L475.0,439.4 L477.0,439.5 L479.0,439.7 L481.0,439.9 L483.0,440.1 L485.0,440.3 L487.0,440.5 L489.0,440.8 L491.0,441.1 L493.0,441.4 L495.0,441.7 L497.0,442.0 L499.0,442.3 L501.0,442.7 L503.0,443.0 L505.0,443.4 L507.0,443.7 L509.0,444.1 L511.0,444.4 L513.0,444.8 L515.0,445.1 L517.0,445.5 L519.0,445.8 L521.0,446.2 L523.0,446.5 L525.0,446.8 L527.0,447.1 L529.0,447.4 L531.0,447.7 L533.0,448.0 L535.0,448.2 L537.0,448.5 L539.0,448.7 L541.0,448.9 L543.0,449.0 L545.0,449.2 L547.0,449.3 L549.0,449.5 L551.0,449.6 L553.0,449.7 L555.0,449.8 L557.0,449.8 L559.0,449.9 L561.0,449.9 L563.0,450.0 L565.0,450.0 L567.0,450.0 L569.0,450.0 L571.0,450.1 L573.0,450.1 L575.0,450.0 L577.0,450.0 L579.0,450.0 L581.0,450.0 L583.0,450.0 L585.0,449.9 L587.0,449.9 L589.0,449.9 L591.0,449.9 L593.0,449.8 L595.0,449.8 L597.0,449.8 L599.0,449.8 L601.0,449.7 L603.0,449.7 L605.0,449.7 L607.0,449.7 L609.0,449.7 L611.0,449.7 L613.0,449.7 L615.0,449.7 L617.0,449.7 L619.0,449.7 L621.0,449.7 L623.0,449.7 L625.0,449.7 L627.0,449.7 L629.0,449.7 L631.0,449.7 L633.0,449.7 L635.0,449.7 L637.0,449.7 L639.0,449.7 L641.0,449.7 L643.0,449.7 L645.0,449.8 L647.0,449.8 L649.0,449.8 L651.0,449.8 L653.0,449.8 L655.0,449.9 L657.0,449.9 L659.0,449.9 L661.0,449.9 L663.0,450.0 L665.0,450.0 L667.0,450.0 L669.0,450.1 L671.0,450.1 L673.0,450.1 L675.0,450.1 L677.0,450.2 L679.0,450.2 L681.0,450.2 L683.0,450.3 L685.0,450.3 L687.0,450.3 L689.0,450.4 L691.0,450.4 L693.0,450.4 L695.0,450.5 L697.0,450.5 L699.0,450.5 L701.0,450.6 L703.0,450.6 L705.0,450.6 L707.0,450.7 L709.0,450.7 L711.0,450.7 L713.0,450.8 L715.0,450.8 L717.0,450.8 L719.0,450.9 L721.0,450.9 L723.0,450.9 L725.0,451.0 L727.0,451.0 L729.0,451.0 L731.0,451.0 L733.0,451.1 L735.0,451.1 L737.0,451.1 L739.0,451.1 L741.0,451.1 L743.0,451.2 L745.0,451.2 L747.0,451.2 L749.0,451.2 L751.0,451.2 L753.0,451.2 L755.0,451.2 L757.0,451.2 L759.0,451.2 L761.0,451.2 L763.0,451.2 L765.0,451.2 L767.0,451.2 L769.0,451.2 L771.0,451.2 L773.0,451.1 L775.0,451.1 L777.0,451.1 L779.0,451.1 L781.0,451.0 L783.0,451.0 L785.0,450.9 L787.0,450.9 L789.0,450.8 L791.0,450.8 L793.0,450.7 L795.0,450.7 L797.0,450.6 L799.0,450.5 L801.0,450.5 L803.0,450.4 L805.0,450.3 L807.0,450.2 L809.0,450.1 L811.0,450.0 L813.0,449.9 L815.0,449.8 L817.0,449.7 L819.0,449.5 L821.0,449.4 L823.0,449.3 L825.0,449.1 L827.0,449.0 L829.0,448.8 L831.0,448.7 L833.0,448.5 L835.0,448.3 L837.0,448.2 L839.0,448.0 L841.0,447.8 L843.0,447.6 L845.0,447.4 L847.0,447.2 L849.0,447.0 L851.0,446.7 L853.0,446.5 L855.0,446.3 L857.0,446.0 L859.0,445.8 L861.0,445.5 L863.0,445.2 L865.0,445.0 L867.0,444.7 L869.0,444.4 L871.0,444.1 L873.0,443.8 L875.0,443.5 L877.0,443.1 L879.0,442.8 L881.0,442.4 L883.0,442.1 L885.0,441.7 L887.0,441.4 L889.0,441.0 L891.0,440.6 L893.0,440.2 L895.0,439.8 L897.0,439.4 L899.0,438.9 L901.0,438.5 L902.5,438.2" fill="none" stroke="#000" stroke-width="2.5" stroke-linejoin="round" stroke-linecap="butt"/>
<path d="M158.0,465.0 C167.0,465.1 181.2,465.1 185.0,465.3 L187.0,465.4 L189.0,465.5 L191.0,465.5 L193.0,465.5 L195.0,465.4 L197.0,465.2 L199.0,465.1 L201.0,464.8 L203.0,464.5 L205.0,464.2 L207.0,463.9 L209.0,463.5 L211.0,463.1 L213.0,462.6 L215.0,462.1 L217.0,461.6 L219.0,461.1 L221.0,460.5 L223.0,460.0 L225.0,459.4 L227.0,458.8 L229.0,458.2 L231.0,457.5 L233.0,456.9 L235.0,456.3 L237.0,455.7 L239.0,455.0 L241.0,454.4 L243.0,453.8 L245.0,453.2 L247.0,452.6 L249.0,452.0 L251.0,451.5 L253.0,451.0 L255.0,450.4 L257.0,449.9 L259.0,449.5 L261.0,449.0 L263.0,448.6 L265.0,448.3 L267.0,447.9 L269.0,447.7 L271.0,447.4 L273.0,447.2 L275.0,447.0 L277.0,446.9 L279.0,446.9 L281.0,446.9 L283.0,446.9 L285.0,447.0 L287.0,447.1 L289.0,447.3 L291.0,447.5 L293.0,447.7 L295.0,447.9 L297.0,448.2 L299.0,448.4 L301.0,448.7 L303.0,448.9 L305.0,449.1 L307.0,449.3 L309.0,449.5 L311.0,449.7 L313.0,449.9 L315.0,450.0 L317.0,450.1 L319.0,450.1 L321.0,450.1 L323.0,450.0 L325.0,449.9 L327.0,449.7 L329.0,449.5 L331.0,449.3 L333.0,449.0 L335.0,448.7 L337.0,448.3 L339.0,447.9 L341.0,447.4 L343.0,446.9 L345.0,446.4 L347.0,445.8 L349.0,445.2 L351.0,444.5 L353.0,443.9 L355.0,443.1 L357.0,442.4 L359.0,441.6 L361.0,440.8 L363.0,439.9 L365.0,439.0 L367.0,438.1 L369.0,437.2 L371.0,436.3 L373.0,435.4 L375.0,434.4 L377.0,433.5 L379.0,432.6 L381.0,431.6 L383.0,430.7 L385.0,429.8 L387.0,428.9 L389.0,428.1 L391.0,427.2 L393.0,426.4 L395.0,425.6 L397.0,424.9 L399.0,424.1 L401.0,423.5 L403.0,422.8 L405.0,422.2 L407.0,421.5 L409.0,421.0 L411.0,420.4 L413.0,419.9 L415.0,419.4 L417.0,418.9 L419.0,418.4 L421.0,418.0 L423.0,417.6 L425.0,417.2 L427.0,416.8 L429.0,416.4 L431.0,416.1 L433.0,415.8 L435.0,415.4 L437.0,415.1 L439.0,414.9 L441.0,414.6 L443.0,414.3 L445.0,414.0 L447.0,413.8 L449.0,413.5 L451.0,413.2 L453.0,413.0 L455.0,412.7 L457.0,412.4 L459.0,412.1 L461.0,411.8 L463.0,411.5 L465.0,411.2 L467.0,410.9 L469.0,410.5 L471.0,410.2 L473.0,409.8 L475.0,409.4 L477.0,409.0 L479.0,408.6 L481.0,408.1 L483.0,407.7 L485.0,407.2 L487.0,406.7 L489.0,406.2 L491.0,405.6 L493.0,405.1 L495.0,404.6 L497.0,404.0 L499.0,403.5 L501.0,402.9 L503.0,402.3 L505.0,401.7 L507.0,401.1 L509.0,400.6 L511.0,400.0 L513.0,399.4 L515.0,398.8 L517.0,398.2 L519.0,397.6 L521.0,397.0 L523.0,396.4 L525.0,395.8 L527.0,395.3 L529.0,394.7 L531.0,394.1 L533.0,393.6 L535.0,393.0 L537.0,392.5 L539.0,391.9 L541.0,391.4 L543.0,390.9 L545.0,390.3 L547.0,389.8 L549.0,389.3 L551.0,388.7 L553.0,388.2 L555.0,387.7 L557.0,387.2 L559.0,386.6 L561.0,386.1 L563.0,385.5 L565.0,385.0 L567.0,384.4 L569.0,383.9 L571.0,383.3 L573.0,382.8 L575.0,382.2 L577.0,381.7 L579.0,381.1 L581.0,380.5 L583.0,380.0 L585.0,379.4 L587.0,378.9 L589.0,378.3 L591.0,377.8 L593.0,377.3 L595.0,376.8 L597.0,376.3 L599.0,375.8 L601.0,375.4 L603.0,374.9 L605.0,374.5 L607.0,374.1 L609.0,373.7 L611.0,373.4 L613.0,373.1 L615.0,372.8 L617.0,372.5 L619.0,372.2 L621.0,372.0 L623.0,371.8 L625.0,371.7 L627.0,371.6 L629.0,371.4 L631.0,371.4 L633.0,371.3 L635.0,371.3 L637.0,371.3 L639.0,371.3 L641.0,371.3 L643.0,371.4 L645.0,371.4 L647.0,371.5 L649.0,371.6 L651.0,371.7 L653.0,371.9 L655.0,372.0 L657.0,372.2 L659.0,372.4 L661.0,372.6 L663.0,372.8 L665.0,373.0 L667.0,373.2 L669.0,373.4 L671.0,373.7 L673.0,373.9 L675.0,374.2 L677.0,374.4 L679.0,374.7 L681.0,375.0 L683.0,375.2 L685.0,375.5 L687.0,375.8 L689.0,376.0 L691.0,376.3 L693.0,376.6 L695.0,376.9 L697.0,377.1 L699.0,377.4 L701.0,377.7 L703.0,377.9 L705.0,378.2 L707.0,378.4 L709.0,378.7 L711.0,378.9 L713.0,379.2 L715.0,379.4 L717.0,379.7 L719.0,379.9 L721.0,380.1 L723.0,380.4 L725.0,380.6 L727.0,380.8 L729.0,381.1 L731.0,381.3 L733.0,381.5 L735.0,381.7 L737.0,382.0 L739.0,382.2 L741.0,382.4 L743.0,382.6 L745.0,382.8 L747.0,383.0 L749.0,383.2 L751.0,383.4 L753.0,383.6 L755.0,383.8 L757.0,384.0 L759.0,384.1 L761.0,384.3 L763.0,384.5 L765.0,384.6 L767.0,384.7 L769.0,384.8 L771.0,385.0 L773.0,385.0 L775.0,385.1 L777.0,385.2 L779.0,385.3 L781.0,385.3 L783.0,385.3 L785.0,385.3 L787.0,385.3 L789.0,385.3 L791.0,385.3 L793.0,385.2 L795.0,385.1 L797.0,385.0 L799.0,384.9 L801.0,384.8 L803.0,384.6 L805.0,384.4 L807.0,384.2 L809.0,384.0 L811.0,383.7 L813.0,383.5 L815.0,383.2 L817.0,382.9 L819.0,382.5 L821.0,382.2 L823.0,381.8 L825.0,381.4 L827.0,381.0 L829.0,380.6 L831.0,380.2 L833.0,379.7 L835.0,379.2 L837.0,378.7 L839.0,378.2 L841.0,377.6 L843.0,377.0 L845.0,376.5 L847.0,375.9 L849.0,375.2 L851.0,374.6 L853.0,373.9 L855.0,373.3 L857.0,372.6 L859.0,371.8 L861.0,371.1 L863.0,370.4 L865.0,369.6 L867.0,368.8 L869.0,368.0 L871.0,367.2 L873.0,366.3 L875.0,365.5 L877.0,364.6 L879.0,363.7 L881.0,362.8 L883.0,361.9 L885.0,360.9 L887.0,360.0 L889.0,359.0 L891.0,358.0 L893.0,357.0 L895.0,355.9 L897.0,354.9 L899.0,353.8 L901.0,352.8 L902.5,352.0" fill="none" stroke="#bf00bf" stroke-width="2.5" stroke-linejoin="round" stroke-linecap="butt"/>
</g>
<g stroke="#000" stroke-width="1.3"><line x1="157.8" y1="465.0" x2="157.8" y2="456.0"/><line x1="157.8" y1="22.5" x2="157.8" y2="31.5"/><line x1="250.9" y1="465.0" x2="250.9" y2="456.0"/><line x1="250.9" y1="22.5" x2="250.9" y2="31.5"/><line x1="344.0" y1="465.0" x2="344.0" y2="456.0"/><line x1="344.0" y1="22.5" x2="344.0" y2="31.5"/><line x1="437.1" y1="465.0" x2="437.1" y2="456.0"/><line x1="437.1" y1="22.5" x2="437.1" y2="31.5"/><line x1="530.2" y1="465.0" x2="530.2" y2="456.0"/><line x1="530.2" y1="22.5" x2="530.2" y2="31.5"/><line x1="623.2" y1="465.0" x2="623.2" y2="456.0"/><line x1="623.2" y1="22.5" x2="623.2" y2="31.5"/><line x1="716.3" y1="465.0" x2="716.3" y2="456.0"/><line x1="716.3" y1="22.5" x2="716.3" y2="31.5"/><line x1="809.4" y1="465.0" x2="809.4" y2="456.0"/><line x1="809.4" y1="22.5" x2="809.4" y2="31.5"/><line x1="902.5" y1="465.0" x2="902.5" y2="456.0"/><line x1="902.5" y1="22.5" x2="902.5" y2="31.5"/><line x1="157.8" y1="465.0" x2="166.8" y2="465.0"/><line x1="902.5" y1="465.0" x2="893.5" y2="465.0"/><line x1="157.8" y1="376.5" x2="166.8" y2="376.5"/><line x1="902.5" y1="376.5" x2="893.5" y2="376.5"/><line x1="157.8" y1="288.0" x2="166.8" y2="288.0"/><line x1="902.5" y1="288.0" x2="893.5" y2="288.0"/><line x1="157.8" y1="199.5" x2="166.8" y2="199.5"/><line x1="902.5" y1="199.5" x2="893.5" y2="199.5"/><line x1="157.8" y1="111.0" x2="166.8" y2="111.0"/><line x1="902.5" y1="111.0" x2="893.5" y2="111.0"/><line x1="157.8" y1="22.5" x2="166.8" y2="22.5"/><line x1="902.5" y1="22.5" x2="893.5" y2="22.5"/></g>
<rect x="157.8" y="22.5" width="744.7" height="442.5" fill="none" stroke="#000" stroke-width="2.3"/>
<rect x="173.4" y="37.9" width="403.7" height="231.8" fill="#fff" stroke="#000" stroke-width="2.3"/>
<line x1="193.9" y1="62.0" x2="239.8" y2="62.0" stroke="#000" stroke-width="2.5"/>
<line x1="193.9" y1="107.0" x2="239.8" y2="107.0" stroke="#bf00bf" stroke-width="2.5"/>
<line x1="195.0" y1="136.0" x2="195.0" y2="167.0" stroke="#ff0000" stroke-width="2"/>
<line x1="188.0" y1="136.0" x2="202.0" y2="136.0" stroke="#ff0000" stroke-width="1.4"/>
<line x1="188.0" y1="167.0" x2="202.0" y2="167.0" stroke="#ff0000" stroke-width="1.4"/>
<circle cx="195.0" cy="151.5" r="7.8" fill="#ff0000"/>
<line x1="238.4" y1="136.0" x2="238.4" y2="167.0" stroke="#ff0000" stroke-width="2"/>
<line x1="231.4" y1="136.0" x2="245.4" y2="136.0" stroke="#ff0000" stroke-width="1.4"/>
<line x1="231.4" y1="167.0" x2="245.4" y2="167.0" stroke="#ff0000" stroke-width="1.4"/>
<circle cx="238.4" cy="151.5" r="7.8" fill="#ff0000"/>
<line x1="195.0" y1="180.5" x2="195.0" y2="211.5" stroke="#0000ff" stroke-width="2"/>
<line x1="188.0" y1="180.5" x2="202.0" y2="180.5" stroke="#0000ff" stroke-width="1.4"/>
<line x1="188.0" y1="211.5" x2="202.0" y2="211.5" stroke="#0000ff" stroke-width="1.4"/>
<circle cx="195.0" cy="196.0" r="7.8" fill="#0000ff"/>
<line x1="238.4" y1="180.5" x2="238.4" y2="211.5" stroke="#0000ff" stroke-width="2"/>
<line x1="231.4" y1="180.5" x2="245.4" y2="180.5" stroke="#0000ff" stroke-width="1.4"/>
<line x1="231.4" y1="211.5" x2="245.4" y2="211.5" stroke="#0000ff" stroke-width="1.4"/>
<circle cx="238.4" cy="196.0" r="7.8" fill="#0000ff"/>
<line x1="195.0" y1="225.0" x2="195.0" y2="256.0" stroke="#7fff00" stroke-width="2"/>
<line x1="188.0" y1="225.0" x2="202.0" y2="225.0" stroke="#7fff00" stroke-width="1.4"/>
<line x1="188.0" y1="256.0" x2="202.0" y2="256.0" stroke="#7fff00" stroke-width="1.4"/>
<circle cx="195.0" cy="240.5" r="7.8" fill="#7fff00"/>
<line x1="238.4" y1="225.0" x2="238.4" y2="256.0" stroke="#7fff00" stroke-width="2"/>
<line x1="231.4" y1="225.0" x2="245.4" y2="225.0" stroke="#7fff00" stroke-width="1.4"/>
<line x1="231.4" y1="256.0" x2="245.4" y2="256.0" stroke="#7fff00" stroke-width="1.4"/>
<circle cx="238.4" cy="240.5" r="7.8" fill="#7fff00"/>
<text x="271.8" y="74.2" font-size="34" textLength="64.0" lengthAdjust="spacingAndGlyphs" stroke="#000" stroke-width="0.35">Sly4</text>
<text x="271.8" y="118.7" font-size="34" textLength="293.0" lengthAdjust="spacingAndGlyphs" stroke="#000" stroke-width="0.35">Sly4 (larger pairing)</text>
<text x="271.8" y="163.2" font-size="34" textLength="140.0" lengthAdjust="spacingAndGlyphs" stroke="#000" stroke-width="0.35">SeaLL1-1</text>
<text x="271.8" y="207.6" font-size="34" textLength="140.0" lengthAdjust="spacingAndGlyphs" stroke="#000" stroke-width="0.35">SeaLL1-2</text>
<text x="271.8" y="251.4" font-size="34" textLength="68.0" lengthAdjust="spacingAndGlyphs" stroke="#000" stroke-width="0.35">SkM</text>
<text x="341.6" y="247.2" font-size="25" stroke="#000" stroke-width="0.3">*</text>
<g font-weight="bold" font-size="51" stroke="#fff" stroke-width="1.0"><text x="148.3" y="478.6" text-anchor="end" textLength="70" lengthAdjust="spacingAndGlyphs" font-size="50">0.0</text><text x="148.3" y="390.1" text-anchor="end" textLength="70" lengthAdjust="spacingAndGlyphs" font-size="50">0.5</text><text x="148.3" y="301.6" text-anchor="end" textLength="70" lengthAdjust="spacingAndGlyphs" font-size="50">1.0</text><text x="148.3" y="213.1" text-anchor="end" textLength="70" lengthAdjust="spacingAndGlyphs" font-size="50">1.5</text><text x="148.3" y="124.6" text-anchor="end" textLength="70" lengthAdjust="spacingAndGlyphs" font-size="50">2.0</text><text x="148.3" y="36.1" text-anchor="end" textLength="70" lengthAdjust="spacingAndGlyphs" font-size="50">2.5</text><text x="157.8" y="510.8" text-anchor="middle" textLength="27" lengthAdjust="spacingAndGlyphs">0</text><text x="250.9" y="510.8" text-anchor="middle" textLength="83" lengthAdjust="spacingAndGlyphs">100</text><text x="344.0" y="510.8" text-anchor="middle" textLength="83" lengthAdjust="spacingAndGlyphs">200</text><text x="437.1" y="510.8" text-anchor="middle" textLength="83" lengthAdjust="spacingAndGlyphs">300</text><text x="530.2" y="510.8" text-anchor="middle" textLength="83" lengthAdjust="spacingAndGlyphs">400</text><text x="623.2" y="510.8" text-anchor="middle" textLength="83" lengthAdjust="spacingAndGlyphs">500</text><text x="716.3" y="510.8" text-anchor="middle" textLength="83" lengthAdjust="spacingAndGlyphs">600</text><text x="809.4" y="510.8" text-anchor="middle" textLength="83" lengthAdjust="spacingAndGlyphs">700</text><text x="902.5" y="510.8" text-anchor="middle" textLength="83" lengthAdjust="spacingAndGlyphs">800</text></g>
<g fill="none" stroke="#000" stroke-linecap="round"><path d="M446.6,539.8 L439.9,563.5" stroke-width="6.0"/><path d="M440.0,563.0 C438.0,571.0 438.8,575.3 442.9,575.2 C446.6,575.1 449.6,571.5 452.0,567.4" stroke-width="4.0"/><path d="M434.2,550.3 L453.8,550.3" stroke-width="1.8" stroke-linecap="butt"/></g>
<g stroke="#000" stroke-width="0.9">
<text x="472.7" y="574.2" font-size="61.5">[</text>
<text x="492.3" y="575.1" font-size="61" textLength="116.5" lengthAdjust="spacingAndGlyphs">fm/c</text>
<text x="608.6" y="574.2" font-size="61.5">]</text>
</g>
<g transform="translate(45.5,400.4) rotate(-90)"><text x="-0.5" y="2.9" font-size="64" font-weight="bold" font-style="italic" textLength="51" lengthAdjust="spacingAndGlyphs" stroke="#fff" stroke-width="0.8">E</text><text x="47.2" y="10" font-size="41" font-weight="bold" textLength="80.4" lengthAdjust="spacingAndGlyphs" stroke="#fff" stroke-width="0.6">flow</text><g stroke="#000" stroke-width="0.9"><text x="146.8" y="0" font-size="60">[</text><text x="168" y="0" font-size="64" textLength="128.5" lengthAdjust="spacingAndGlyphs">MeV</text><text x="296" y="0" font-size="60">]</text></g></g>
</svg>
</body></html>
